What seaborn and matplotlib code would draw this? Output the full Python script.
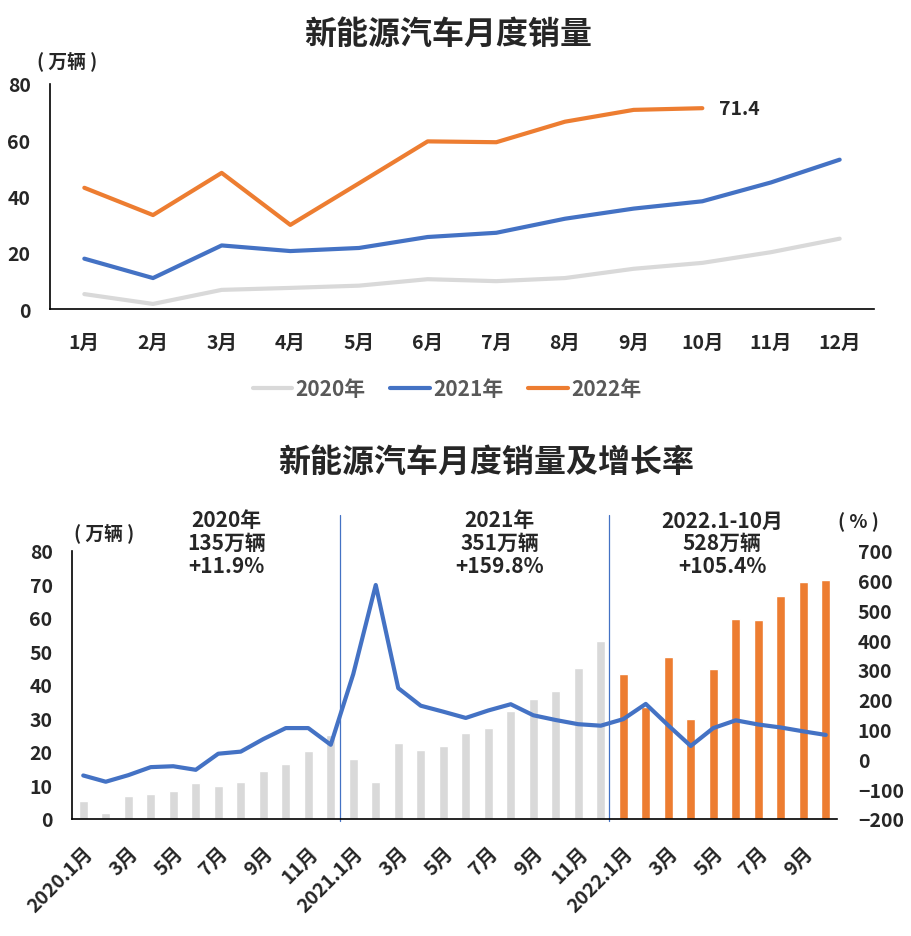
import numpy as np
import pandas as pd
import matplotlib
matplotlib.use("Agg")
import matplotlib.pyplot as plt
import seaborn as sns

# ---- data ----
months = ["1月", "2月", "3月", "4月", "5月", "6月", "7月", "8月", "9月", "10月", "11月", "12月"]
sales_2020 = [5.3, 1.8, 6.8, 7.5, 8.3, 10.6, 9.9, 11.0, 14.3, 16.4, 20.2, 25.0]
sales_2021 = [17.9, 11.0, 22.6, 20.6, 21.7, 25.6, 27.1, 32.1, 35.7, 38.3, 45.0, 53.1]
sales_2022 = [43.1, 33.4, 48.4, 29.9, 44.7, 59.6, 59.3, 66.6, 70.8, 71.4]

growth_2020 = [-54, -75, -53, -26, -23, -35, 19, 26, 68, 105, 105, 49]
growth_2021 = [286, 585, 239, 180, 160, 139, 164, 185, 148, 132, 118, 113]
growth_2022 = [135, 186, 114, 45, 105, 131, 117, 107, 94, 82]

tick_labels_bottom = ["2020.1月", "3月", "5月", "7月", "9月", "11月",
                      "2021.1月", "3月", "5月", "7月", "9月", "11月",
                      "2022.1月", "3月", "5月", "7月", "9月"]
period_notes = ["2020年\n135万辆\n+11.9%", "2021年\n351万辆\n+159.8%", "2022.1-10月\n528万辆\n+105.4%"]

GRAY = "#D9D9D9"
BLUE = "#4472C4"
ORANGE = "#ED7D31"

sns.set_style("white")
plt.rcParams['font.family'] = ['Noto Sans CJK SC', 'DejaVu Sans']
plt.rcParams['font.weight'] = 'bold'

fig = plt.figure(figsize=(9.12, 9.37), dpi=100)

# ---- top chart: monthly sales by year ----
ax1 = fig.add_axes([50 / 912, 1 - 310 / 937, 824 / 912, 225 / 937])
rows = []
for year, vals in [("2020年", sales_2020), ("2021年", sales_2021), ("2022年", sales_2022)]:
    for i, v in enumerate(vals):
        rows.append({"month": i, "sales": v, "year": year})
df_top = pd.DataFrame(rows)
sns.lineplot(data=df_top, x="month", y="sales", hue="year",
             palette={"2020年": GRAY, "2021年": BLUE, "2022年": ORANGE},
             linewidth=3, ax=ax1, legend=False)
ax1.set_xlim(-0.5, 11.5)
ax1.set_ylim(0, 80)
ax1.set_yticks(range(0, 81, 20))
ax1.set_xticks(range(12))
ax1.set_xticklabels(months)
ax1.set_xlabel("")
ax1.set_ylabel("")
ax1.tick_params(axis="y", length=0, pad=14, labelsize=14)
ax1.tick_params(axis="x", length=0, pad=17, labelsize=14)
for s in ["top", "right"]:
    ax1.spines[s].set_visible(False)
for s in ["left", "bottom"]:
    ax1.spines[s].set_color("black")
    ax1.spines[s].set_linewidth(1.2)
ax1.annotate(f"{sales_2022[-1]}", xy=(len(sales_2022) - 1, sales_2022[-1]),
             xytext=(12, 0), textcoords="offset points", va="center", ha="left",
             fontsize=14, fontweight="bold")

fig.text(448 / 912, 1 - 35 / 937, "新能源汽车月度销量", ha="center", va="center",
         fontsize=23, fontweight="bold")
fig.text(67 / 912, 1 - 61 / 937, "( 万辆 )", ha="center", va="center",
         fontsize=13.5, fontweight="bold")

handles = [plt.Line2D([], [], color=c, lw=3) for c in (GRAY, BLUE, ORANGE)]
leg = fig.legend(handles, ["2020年", "2021年", "2022年"], loc="center",
                 bbox_to_anchor=(447 / 912, 1 - 390 / 937), ncol=3, frameon=False,
                 fontsize=15, handlelength=1.9, columnspacing=1.2, handletextpad=0.15)
for t in leg.get_texts():
    t.set_color("#595959")
    t.set_fontweight("bold")

# ---- bottom chart: monthly sales + growth rate ----
ax2 = fig.add_axes([72 / 912, 1 - 820 / 937, 765 / 912, 268.3 / 937])
sales_all = sales_2020 + sales_2021 + sales_2022
growth_all = growth_2020 + growth_2021 + growth_2022
group = ["old"] * (len(sales_2020) + len(sales_2021)) + ["new"] * len(sales_2022)
df_bot = pd.DataFrame({"pos": np.arange(len(sales_all)), "sales": sales_all,
                       "growth": growth_all, "group": group})
sns.barplot(data=df_bot, x="pos", y="sales", hue="group",
            palette={"old": GRAY, "new": ORANGE}, dodge=False, width=0.38,
            legend=False, ax=ax2, saturation=1)
ax2.set_xlim(-0.5, len(sales_all) - 0.5)
ax2.set_ylim(0, 80)
ax2.set_yticks(range(0, 81, 10))
ax2.set_xlabel("")
ax2.set_ylabel("")
tick_pos = list(range(0, 12, 2)) + list(range(12, 24, 2)) + list(range(24, 34, 2))
ax2.set_xticks(tick_pos)
ax2.set_xticklabels(tick_labels_bottom, rotation=45, ha="right", rotation_mode="anchor")
ax2.tick_params(axis="x", length=0, pad=17, labelsize=14)
ax2.tick_params(axis="y", length=0, pad=14, labelsize=14)
for s in ["top", "right"]:
    ax2.spines[s].set_visible(False)
for s in ["left", "bottom"]:
    ax2.spines[s].set_color("black")
    ax2.spines[s].set_linewidth(1.2)

# year separators
for xs in (11.4, 23.35):
    ax2.plot([xs, xs], [-0.6, 90.5], color=BLUE, lw=0.9, clip_on=False, zorder=1)

ax3 = ax2.twinx()
sns.lineplot(data=df_bot, x="pos", y="growth", color=BLUE, linewidth=3, ax=ax3)
ax3.set_ylim(-200, 700)
ax3.set_yticks(range(-200, 701, 100))
ax3.set_ylabel("")
ax3.tick_params(axis="y", length=0, pad=15, labelsize=14)
for s in ["top", "right", "left", "bottom"]:
    ax3.spines[s].set_visible(False)

for xc, note in zip((6.37, 18.5, 28.4), period_notes):
    ax2.text(xc, 92.3, note, ha="center", va="top", fontsize=15, fontweight="bold",
             linespacing=1.1, clip_on=False)

fig.text(486 / 912, 1 - 463 / 937, "新能源汽车月度销量及增长率", ha="center", va="center",
         fontsize=23, fontweight="bold")
fig.text(104 / 912, 1 - 533 / 937, "( 万辆 )", ha="center", va="center",
         fontsize=13.5, fontweight="bold")
fig.text(858 / 912, 1 - 522 / 937, "( % )", ha="center", va="center",
         fontsize=13.5, fontweight="bold")

fig.savefig("out.png", dpi=100)
